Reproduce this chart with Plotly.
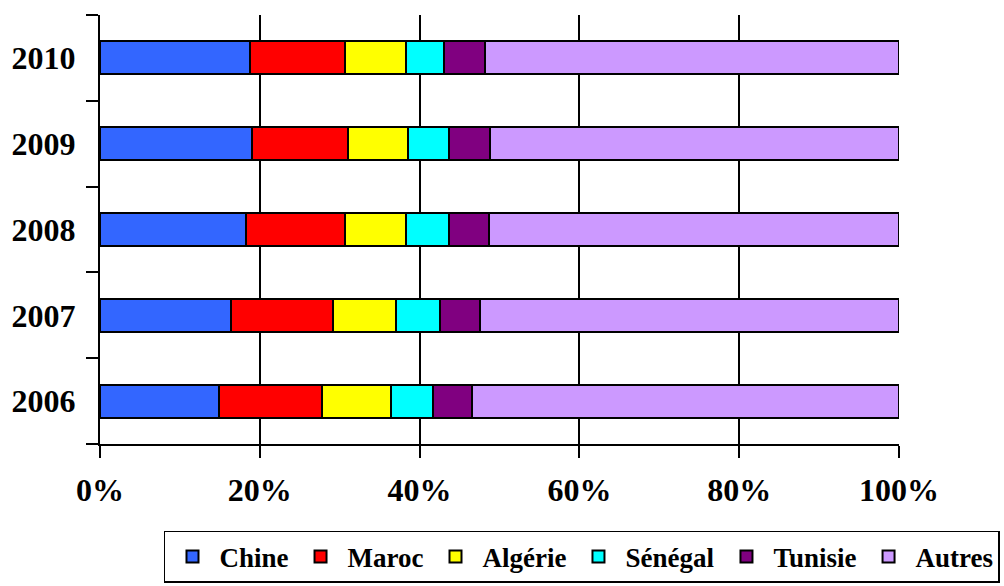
import plotly.graph_objects as go

# Share of each origin per year (percent of total)
years = ["2006", "2007", "2008", "2009", "2010"]
chine = [14.9, 16.4, 18.3, 19.0, 18.8]
maroc = [12.9, 12.7, 12.4, 12.1, 11.9]
algerie = [8.6, 7.9, 7.6, 7.4, 7.6]
senegal = [5.3, 5.6, 5.4, 5.2, 4.8]
tunisie = [4.9, 5.0, 5.0, 5.1, 5.1]
autres = [53.4, 52.4, 51.3, 51.2, 51.8]

series = [
    ("Chine", chine, "#3366FF"),
    ("Maroc", maroc, "#FF0000"),
    ("Algérie", algerie, "#FFFF00"),
    ("Sénégal", senegal, "#00FFFF"),
    ("Tunisie", tunisie, "#800080"),
    ("Autres", autres, "#CC99FF"),
]

x_ticks = [0, 20, 40, 60, 80, 100]
x_tick_text = ["0%", "20%", "40%", "60%", "80%", "100%"]

FONT = "Liberation Serif, Times New Roman, serif"

fig = go.Figure()
for name, vals, color in series:
    fig.add_trace(go.Bar(
        y=years, x=vals, name=name, orientation="h",
        marker=dict(color=color, line=dict(color="black", width=2)),
    ))

fig.update_layout(
    width=1004, height=586,
    margin=dict(l=100, r=105, t=15, b=142, autoexpand=False),
    barmode="stack",
    bargap=0.615,
    plot_bgcolor="white",
    paper_bgcolor="white",
    font=dict(family=FONT, size=32, color="black", weight="bold"),
    showlegend=True,
    legend=dict(
        orientation="h", traceorder="normal",
        x=1.1264, xanchor="right", y=-0.324, yanchor="bottom",
        bordercolor="black", borderwidth=1.5,
        font=dict(family=FONT, size=27, color="black", weight="bold"),
        itemwidth=44, tracegroupgap=0,
    ),
)

fig.update_xaxes(
    range=[0, 100],
    tickvals=x_ticks, ticktext=x_tick_text,
    showgrid=True, gridcolor="black", gridwidth=2,
    showline=True, linecolor="black", linewidth=2,
    ticks="outside", ticklen=12, tickwidth=2, tickcolor="black",
    ticklabelstandoff=5,
    zeroline=False,
    tickfont=dict(family=FONT, size=32, color="black", weight="bold"),
)

fig.update_yaxes(
    type="category", categoryorder="array", categoryarray=years,
    showline=True, linecolor="black", linewidth=2,
    ticks="outside", ticklen=12, tickwidth=2, tickcolor="black",
    tickson="boundaries",
    ticklabelstandoff=16,
    showgrid=False,
    tickfont=dict(family=FONT, size=32, color="black", weight="bold"),
)

fig.write_html("out.html")
